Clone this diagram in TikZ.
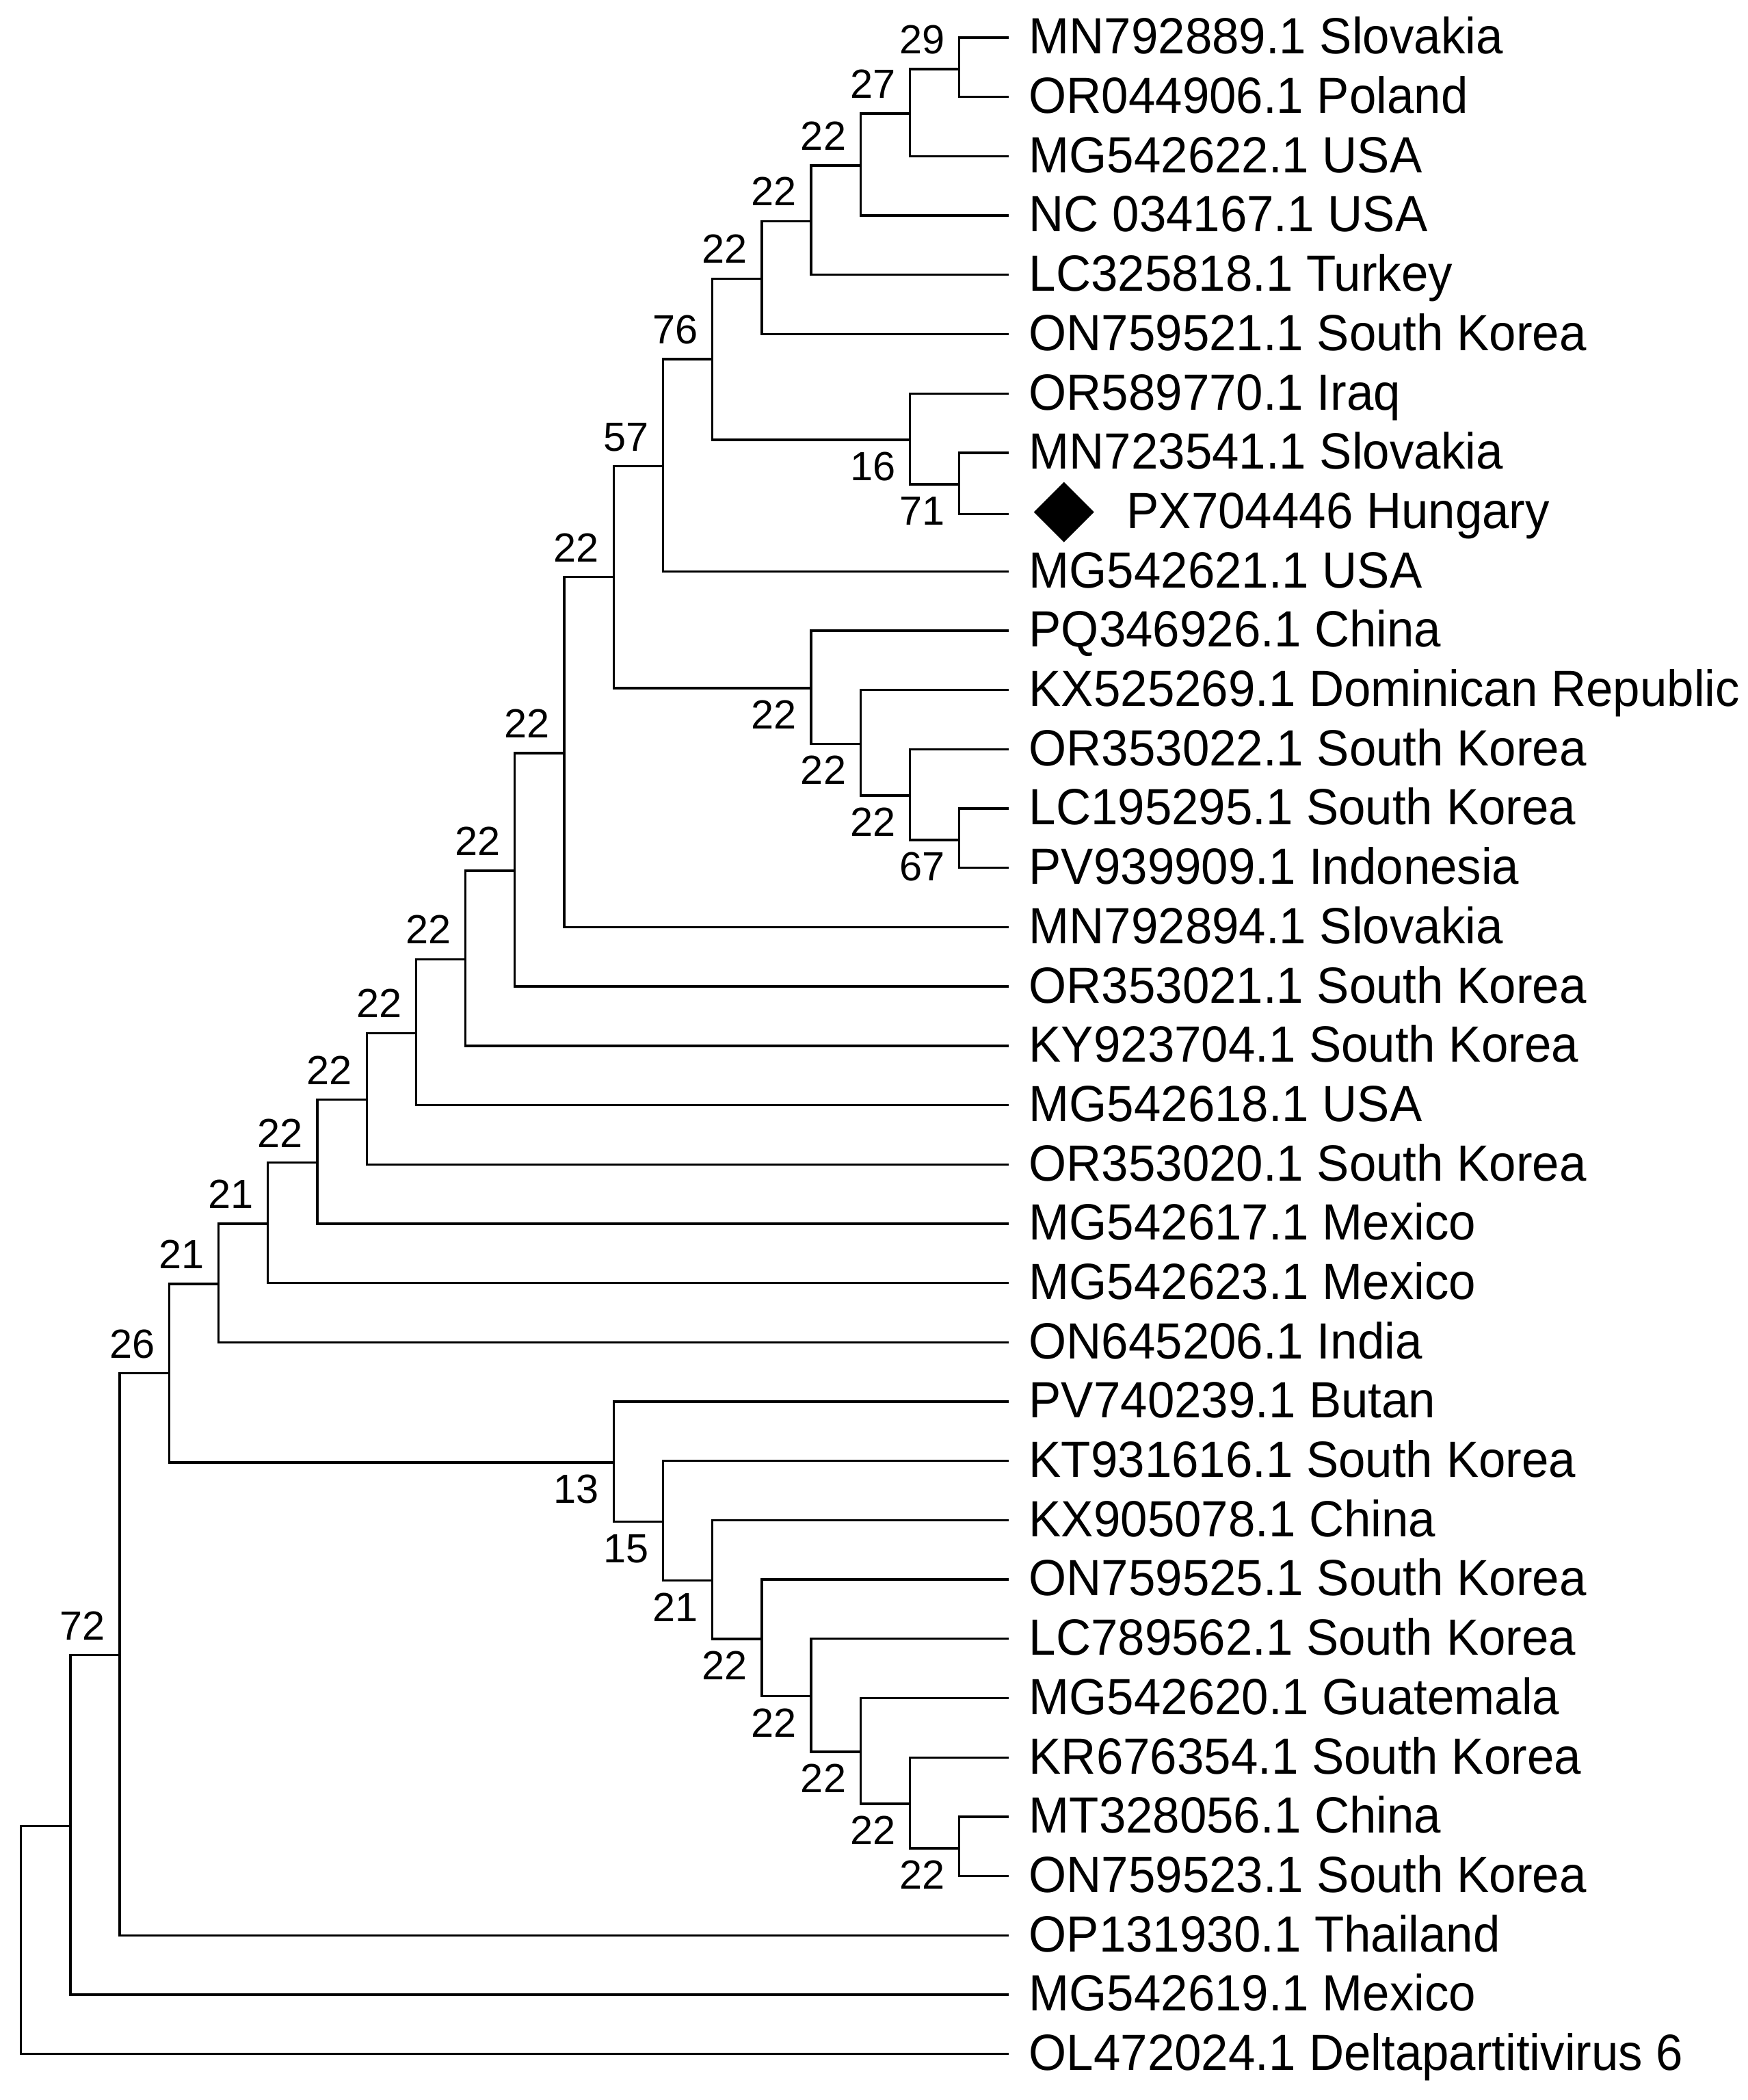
\documentclass[tikz,border=0pt]{standalone}
\usepackage{fontspec}
\setmainfont{Liberation Sans}
\newfontfamily\leaffont[FakeStretch=0.952]{Liberation Sans}
\usetikzlibrary{shapes.geometric}

\begin{document}
\begin{tikzpicture}[x=18.44pt,y=-22.14pt,line width=0.85pt]
        \tikzstyle{leaf}=[anchor=west,inner xsep=7.2pt,inner ysep=0pt,text height=13.6pt,text depth=0pt,yshift=0.7pt,font=\leaffont\fontsize{19}{20}\selectfont];
        \tikzstyle{boot}=[inner sep=0pt,text height=10.9pt,text depth=0pt,font=\fontsize{15.2}{16}\selectfont];
        \tikzstyle{gem}=[diamond,fill=black,inner sep=0pt,minimum width=22.8pt,minimum height=22.8pt];
        \useasboundingbox (-0.4257,0.3654) rectangle (34.959,35.777);

          % leaves, x = 20, y = row
          \foreach \k/\txt in {1/MN792889.1 Slovakia,2/OR044906.1 Poland,3/MG542622.1 USA,4/NC 034167.1 USA,
                5/LC325818.1 Turkey,6/ON759521.1 South Korea,7/OR589770.1 Iraq,8/MN723541.1 Slovakia,
                10/MG542621.1 USA,11/PQ346926.1 China,12/KX525269.1 Dominican Republic,13/OR353022.1 South Korea,
                14/LC195295.1 South Korea,15/PV939909.1 Indonesia,16/MN792894.1 Slovakia,17/OR353021.1 South Korea,
                18/KY923704.1 South Korea,19/MG542618.1 USA,20/OR353020.1 South Korea,21/MG542617.1 Mexico,
                22/MG542623.1 Mexico,23/ON645206.1 India,24/PV740239.1 Butan,25/KT931616.1 South Korea,
                26/KX905078.1 China,27/ON759525.1 South Korea,28/LC789562.1 South Korea,29/MG542620.1 Guatemala,
                30/KR676354.1 South Korea,31/MT328056.1 China,32/ON759523.1 South Korea,33/OP131930.1 Thailand,
                34/MG542619.1 Mexico,35/OL472024.1 Deltapartitivirus 6}{
            \node[leaf] (l\k) at (20,\k) {\txt};
          }
          \coordinate (e9) at (20,9);
          \node[gem] (dm) at (21.12,9) {};
          \node[leaf] (l9) at (21.98,9) {PX704446 Hungary};

          % inner nodes (depth, row)
          \foreach \n/\d/\r in {r/0/33.0613,a1/1/31.1226,a2/2/28.2452,a3/3/23.4904,a4/4/21.9846,
                a5/5/20.9693,a6/6/19.9385,a7/7/18.8771,a8/8/17.7542,a9/9/16.5083,a10/10/15.0166,
                a11/11/13.0332,a12/12/10.0664,a13/13/8.1953,a14/14/6.3906,a15/15/5.0313,a16/16/4.0625,
                a17/17/3.125,a18/18/2.25,a19/19/1.5,b18/18/7.75,b19/19/8.5,
                c16/16/11.9375,c17/17/12.875,c18/18/13.75,c19/19/14.5,
                d12/12/24.9961,d13/13/25.9922,d14/14/26.9844,d15/15/27.9688,d16/16/28.9375,
                d17/17/29.875,d18/18/30.75,d19/19/31.5}{
            \coordinate (\n) at (\d,\r);
          }

          % branches
          \foreach \p/\c in {r/a1,r/l35.west,a1/a2,a1/l34.west,a2/a3,a2/l33.west,a3/a4,a3/d12,
                a4/a5,a4/l23.west,a5/a6,a5/l22.west,a6/a7,a6/l21.west,a7/a8,a7/l20.west,
                a8/a9,a8/l19.west,a9/a10,a9/l18.west,a10/a11,a10/l17.west,a11/a12,a11/l16.west,
                a12/a13,a12/c16,a13/a14,a13/l10.west,a14/a15,a14/b18,a15/a16,a15/l6.west,
                a16/a17,a16/l5.west,a17/a18,a17/l4.west,a18/a19,a18/l3.west,a19/l1.west,a19/l2.west,
                b18/l7.west,b18/b19,b19/l8.west,b19/e9,
                c16/l11.west,c16/c17,c17/l12.west,c17/c18,c18/l13.west,c18/c19,c19/l14.west,c19/l15.west,
                d12/l24.west,d12/d13,d13/l25.west,d13/d14,d14/l26.west,d14/d15,d15/l27.west,d15/d16,
                d16/l28.west,d16/d17,d17/l29.west,d17/d18,d18/l30.west,d18/d19,d19/l31.west,d19/l32.west}{
            \draw (\p) |- ([yshift=-0.7pt]\c);
          }

          % bootstrap values
          \foreach \n/\v in {a2/72,a3/26,a4/21,a5/21,a6/22,a7/22,a8/22,a9/22,a10/22,a11/22,
                a12/22,a13/57,a14/76,a15/22,a16/22,a17/22,a18/27,a19/29}{
            \node[boot,xshift=-13.85pt,yshift=10.5pt] (v\n) at (\n) {\v};
          }
          \foreach \n/\v in {b18/16,b19/71,c16/22,c17/22,c18/22,c19/67,d12/13,d13/15,
                d14/21,d15/22,d16/22,d17/22,d18/22,d19/22}{
            \node[boot,xshift=-13.85pt,yshift=-10.5pt] (v\n) at (\n) {\v};
          }
      \end{tikzpicture}
\end{document}
